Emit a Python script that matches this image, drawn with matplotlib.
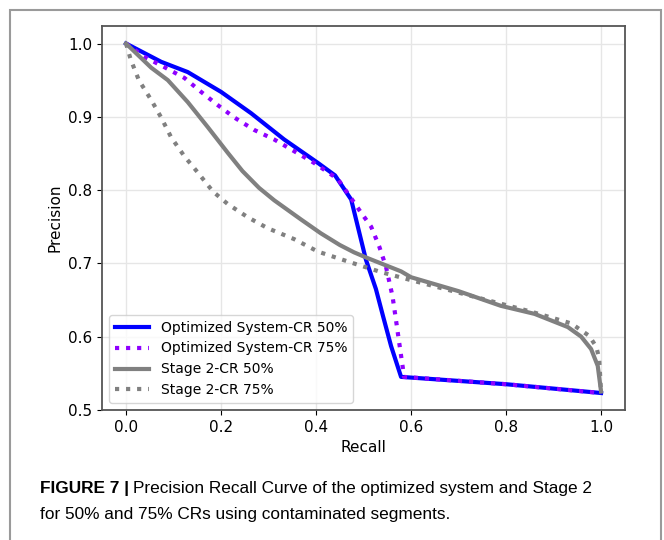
import matplotlib
matplotlib.use("Agg")
import matplotlib.pyplot as plt
from matplotlib.patches import Rectangle

# curves (recall, precision)
opt50_recall = [0.0, 0.074, 0.13, 0.2, 0.263, 0.333, 0.404, 0.44, 0.474, 0.505,
                0.526, 0.541, 0.558, 0.579, 0.8, 1.0]
opt50_prec = [1.0, 0.975, 0.961, 0.934, 0.905, 0.869, 0.837, 0.82, 0.787, 0.705,
              0.665, 0.628, 0.587, 0.545, 0.535, 0.523]

opt75_recall = [0.0, 0.038, 0.08, 0.123, 0.158, 0.193, 0.228, 0.27, 0.312, 0.354,
                0.396, 0.446, 0.495, 0.516, 0.533, 0.547, 0.561, 0.568, 0.575,
                0.583, 0.585, 0.8, 1.0]
opt75_prec = [1.0, 0.982, 0.968, 0.953, 0.934, 0.916, 0.899, 0.882, 0.869, 0.853,
              0.837, 0.815, 0.769, 0.75, 0.723, 0.696, 0.655, 0.624, 0.592,
              0.556, 0.545, 0.535, 0.523]

st50_recall = [0.0, 0.053, 0.088, 0.13, 0.172, 0.214, 0.245, 0.28, 0.312, 0.368, 0.41,
               0.45, 0.48, 0.509, 0.579, 0.6, 0.7, 0.789, 0.86, 0.93, 0.958, 0.979,
               0.993, 1.0]
st50_prec = [1.0, 0.967, 0.95, 0.92, 0.886, 0.851, 0.826, 0.803, 0.786, 0.76, 0.741,
             0.725, 0.715, 0.707, 0.689, 0.681, 0.662, 0.642, 0.631, 0.613, 0.6, 0.583,
             0.56, 0.525]

st75_recall = [0.0, 0.01, 0.027, 0.053, 0.074, 0.095, 0.123, 0.151, 0.183, 0.214,
               0.256, 0.298, 0.354, 0.404, 0.474, 0.537, 0.6, 0.747, 0.853, 0.937,
               0.975, 0.99, 0.996, 1.0]
st75_prec = [1.0, 0.978, 0.95, 0.923, 0.899, 0.872, 0.846, 0.824, 0.798, 0.781,
             0.763, 0.748, 0.733, 0.716, 0.701, 0.688, 0.677, 0.652, 0.634, 0.618,
             0.601, 0.586, 0.57, 0.523]

fig = plt.figure(figsize=(6.64, 5.40), dpi=100)

# outer frame of the journal figure box
fig.patches.append(Rectangle((10 / 664, -0.05), 651 / 664, 1.05 - 10 / 540,
                             transform=fig.transFigure, fill=False,
                             edgecolor="#9a9a9a", linewidth=1.5))

ax = fig.add_axes([0.154, 0.241, 0.787, 0.711])
ax.plot(opt50_recall, opt50_prec, color="blue", lw=3, label="Optimized System-CR 50%")
ax.plot(opt75_recall, opt75_prec, color="#8f00ff", lw=3, ls=":", label="Optimized System-CR 75%")
ax.plot(st50_recall, st50_prec, color="gray", lw=3, label="Stage 2-CR 50%")
ax.plot(st75_recall, st75_prec, color="gray", lw=3, ls=":", label="Stage 2-CR 75%")

ax.set_xlim(-0.05, 1.05)
ax.set_ylim(0.5, 1.024)
ax.set_xticks([0.0, 0.2, 0.4, 0.6, 0.8, 1.0])
ax.set_yticks([0.5, 0.6, 0.7, 0.8, 0.9, 1.0])
ax.tick_params(labelsize=11)
ax.set_xlabel("Recall", fontsize=11)
ax.set_ylabel("Precision", fontsize=11)
ax.grid(True, color="#e6e6e6", lw=1)
for s in ax.spines.values():
    s.set_color("#555555")
    s.set_linewidth(1.3)
ax.legend(loc="lower left", fontsize=10, handlelength=2.5)

# caption: bold label, then the regular text right after it
cap_font = ["Liberation Sans", "DejaVu Sans"]
y1 = 1 - 493 / 540
t = fig.text(40 / 664, y1, "FIGURE 7 |", fontsize=12.4, fontweight="bold",
             family=cap_font, va="baseline")
fig.canvas.draw()
bb = t.get_window_extent(fig.canvas.get_renderer())
fig.text((bb.x1 + 4) / 664, y1,
         "Precision Recall Curve of the optimized system and Stage 2",
         fontsize=12.4, family=cap_font, va="baseline")
fig.text(40 / 664, 1 - 519 / 540,
         "for 50% and 75% CRs using contaminated segments.",
         fontsize=12.4, family=cap_font, va="baseline")

fig.savefig("out.png", dpi=100)
